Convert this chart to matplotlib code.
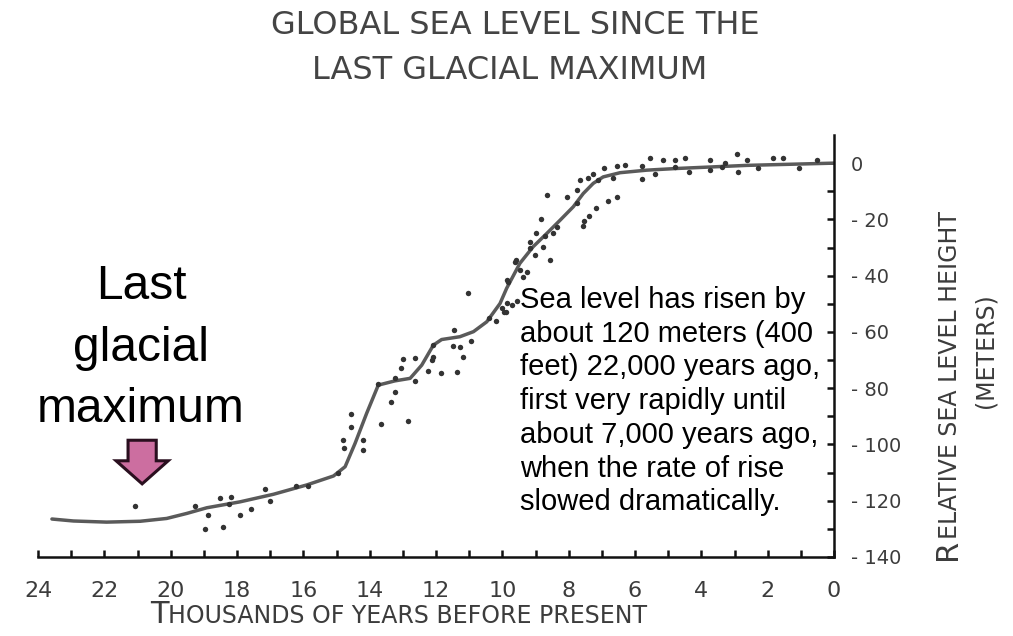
import numpy as np
import matplotlib
matplotlib.use("Agg")
import matplotlib.pyplot as plt
from matplotlib.patches import FancyArrow

# smoothed sea level curve, thousands of years before present vs metres
curve_age = [23.58, 22.93, 21.93, 20.92, 20.12, 19.51, 18.91, 17.91, 16.9, 15.9,
             15.09, 14.74, 14.44, 14.09, 13.74, 13.24, 12.78, 12.43, 12.08, 11.83,
             11.28, 10.87, 10.47, 10.07, 9.87, 9.47, 9.07, 8.66, 8.26, 7.86,
             7.56, 7.26, 6.96, 6.45, 5.65, 4.74, 2.63, 0.0]
curve_level = [-126.5, -127.2, -127.6, -127.3, -126.3, -124.5, -122.5, -120.4, -117.7, -114.4,
               -111.2, -107.9, -99.6, -88.9, -78.9, -77.4, -76.5, -71.8, -64.7, -62.7,
               -61.7, -59.9, -56.4, -49.9, -44.5, -35.6, -29.7, -25.0, -20.3, -15.5,
               -10.8, -7.2, -4.9, -3.4, -2.5, -1.9, -0.8, 0.0]

# individual sea level observations
obs_age = [21.07, 19.28, 18.86, 18.96, 18.43, 18.51, 18.19, 18.23, 17.91, 17.58,
           17.15, 17.02, 16.22, 15.85, 14.96, 14.76, 14.79, 14.57, 14.57, 14.19,
           14.21, 13.66, 13.74, 13.37, 13.24, 13.24, 13.05, 13.0, 12.83, 12.63,
           12.63, 12.23, 12.13, 12.08, 12.08, 11.86, 11.46, 11.5, 11.28, 11.18,
           11.36, 10.94, 11.04, 10.39, 10.2, 10.02, 9.87, 9.95, 9.85, 9.59,
           9.89, 9.72, 9.57, 9.62, 9.47, 9.37, 9.82, 9.26, 9.16, 9.16,
           9.01, 8.98, 8.76, 8.71, 8.56, 8.83, 8.66, 8.36, 8.46, 8.04,
           7.76, 7.76, 7.66, 7.58, 7.54, 7.38, 7.18, 6.8, 6.55, 7.41,
           7.26, 7.11, 6.93, 6.65, 6.55, 6.3, 5.8, 5.8, 5.55, 5.4,
           5.15, 4.79, 4.79, 4.49, 4.36, 3.74, 3.74, 3.39, 3.29, 2.93,
           2.88, 2.63, 2.28, 1.83, 1.53, 1.05, 0.52]
obs_level = [-121.8, -121.8, -125.1, -130.2, -129.5, -119.2, -118.6, -121.3, -125.1, -123.0,
             -115.8, -120.1, -114.8, -114.8, -110.3, -101.2, -98.4, -93.7, -89.0, -98.4,
             -102.0, -92.7, -78.5, -84.8, -81.3, -76.5, -72.7, -69.7, -91.6, -69.1,
             -77.4, -73.9, -70.0, -68.8, -64.7, -74.7, -59.3, -65.0, -65.3, -68.8,
             -74.2, -63.1, -46.3, -55.2, -56.0, -51.6, -49.6, -52.8, -41.6, -34.5,
             -52.8, -50.5, -48.9, -35.1, -38.0, -40.4, -42.2, -38.6, -28.0, -30.3,
             -32.7, -25.0, -29.7, -25.9, -34.5, -20.0, -11.4, -22.6, -25.0, -12.0,
             -14.3, -9.6, -6.0, -22.4, -20.5, -18.8, -16.1, -13.4, -12.0, -5.4,
             -3.7, -6.0, -1.9, -5.4, -1.1, -0.7, -1.1, -5.7, 2.0, -4.0,
             1.1, 1.1, -1.3, 2.0, -3.1, 1.1, -2.5, -1.3, 0.1, 3.4,
             -3.1, 1.1, -1.9, 2.0, 2.0, -1.9, 1.1]

x_labels = ["24", "22", "20", "18", "16", "14", "12", "10", "8", "6", "4", "2", "0"]
y_labels = ["- 140", "- 120", "- 100", "- 80", "- 60", "- 40", "- 20", "0"]

note = ("Sea level has risen by\nabout 120 meters (400\nfeet) 22,000 years ago,\n"
        "first very rapidly until\nabout 7,000 years ago,\nwhen the rate of rise\n"
        "slowed dramatically.")

W, H = 1013, 636
fig = plt.figure(figsize=(W / 100, H / 100), dpi=100)
ax = fig.add_axes([38 / W, 1 - 557 / H, (834 - 38) / W, (557 - 135) / H])

thin = dict(family="DejaVu Sans")
gray = "#3c3c3c"

ax.plot(curve_age, curve_level, color="#5a5a5a", lw=2.5, zorder=2,
        solid_capstyle="round", solid_joinstyle="round")
ax.plot(obs_age, obs_level, "o", color="#333333", ms=3.9, mew=0, zorder=3)

ax.set_xlim(24, 0)
ax.set_ylim(-140, 10)
for s in ["top", "left"]:
    ax.spines[s].set_visible(False)
for s in ["bottom", "right"]:
    ax.spines[s].set_linewidth(1.8)
    ax.spines[s].set_color("#111111")

ax.set_xticks(np.arange(24, -1, -2))
ax.set_xticks(np.arange(23, 0, -2), minor=True)
ax.set_xticklabels(x_labels, fontsize=16, color=gray, **thin)
ax.yaxis.tick_right()
ax.set_yticks(np.arange(-140, 1, 20))
ax.set_yticks(np.arange(-130, 0, 20), minor=True)
ax.set_yticklabels(y_labels, fontsize=14, color=gray, ha="left", **thin)
ax.tick_params(which="both", direction="in", length=5, width=1.8, color="#111111")
ax.tick_params(axis="x", which="major", pad=17)
ax.tick_params(axis="y", which="major", pad=12)

# down arrow pointing at the last glacial maximum
arrow = FancyArrow(20.86, -98.5, 0, -15.5, width=0.85, head_width=1.57,
                   head_length=8.2, length_includes_head=True,
                   fc="#cc6ea0", ec="#2a0f1f", lw=2.2, zorder=4)
ax.add_patch(arrow)

# titles
fig.text(515 / W, 1 - 34 / H, "GLOBAL SEA LEVEL SINCE THE", ha="center",
         va="baseline", fontsize=23, color="#444444", **thin)
fig.text(510 / W, 1 - 79 / H, "LAST GLACIAL MAXIMUM", ha="center",
         va="baseline", fontsize=23, color="#444444", **thin)

# x label in small caps
t = fig.text(150 / W, 1 - 623 / H, "T", ha="left", va="baseline",
             fontsize=22, color=gray, **thin)
ax.annotate("HOUSANDS OF YEARS BEFORE PRESENT", xy=(1, 1 - 623 / H),
            xycoords=(t, "figure fraction"), ha="left", va="baseline",
            fontsize=17, color=gray, annotation_clip=False, **thin)

# y label in small caps, rotated
r = fig.text(962 / W, 1 - 560 / H, "R", ha="right", va="bottom", rotation=90,
             fontsize=22, color=gray, **thin)
ax.annotate("ELATIVE SEA LEVEL HEIGHT", xy=(962 / W, 1), xycoords=("figure fraction", r),
            ha="right", va="bottom", rotation=90, fontsize=17, color=gray,
            annotation_clip=False, **thin)
fig.text(985 / W, 1 - 351 / H, "(METERS)", ha="center", va="center", rotation=90,
         fontsize=17, color=gray, **thin)

# annotations
fig.text(141 / W, 1 - 422 / H, "Last\nglacial\nmaximum", ha="center",
         va="baseline", fontsize=34.5, family="Liberation Sans", linespacing=1.47,
         multialignment="center")
fig.text(520 / W, 1 - 286 / H, note, ha="left", va="top", fontsize=21,
         family="Liberation Sans", linespacing=1.26)

fig.savefig("out.png", dpi=100, facecolor="white")
